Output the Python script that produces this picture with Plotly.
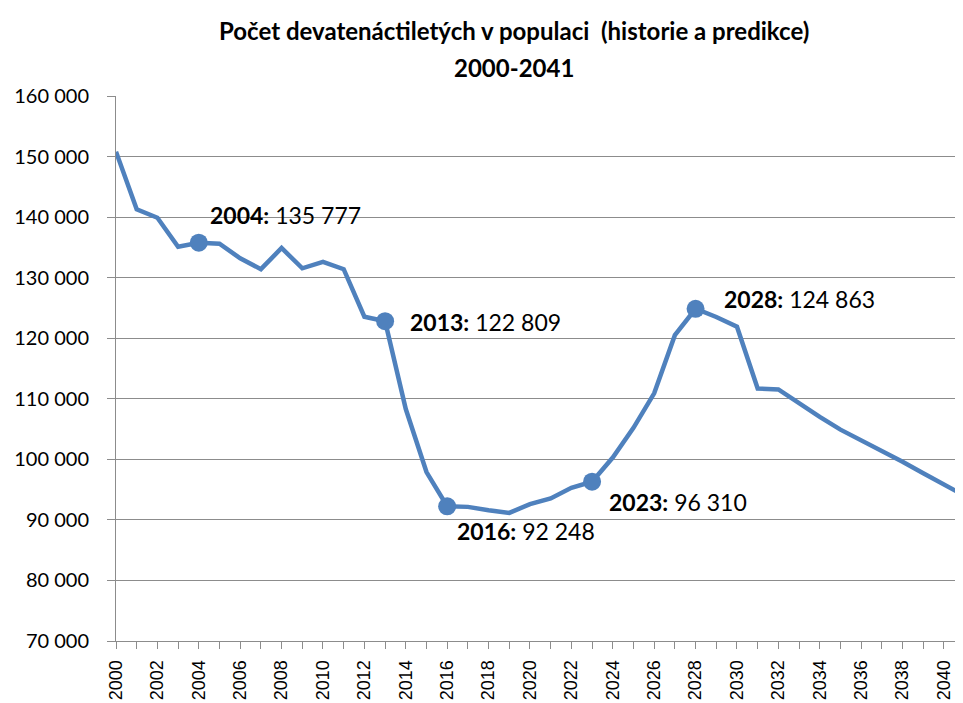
import plotly.graph_objects as go

years = list(range(2000, 2042))
values = [150800, 141300, 139900, 135100, 135777, 135600, 133200, 131400, 134900, 131550,
          132600, 131400, 123550, 122809, 108300, 97900, 92248, 92150, 91600, 91160,
          92600, 93540, 95290, 96310, 100300, 105200, 110900, 120500, 124863, 123500,
          121900, 111700, 111550, 109240, 107000, 104900, 103200, 101400, 99600, 97700,
          95900, 94000]

highlight_years = [2004, 2013, 2016, 2023, 2028]
highlight_values = [135777, 122809, 92248, 96310, 124863]
highlight_texts = ["135 777", "122 809", "92 248", "96 310", "124 863"]
label_shift_x = [9, 23, 8, 15, 26]
label_shift_y = [28, -1, -25, -20, 10]

y_ticks = list(range(70000, 160001, 10000))
x_ticks = list(range(2000, 2041, 2))

title_line1 = "Počet devatenáctiletých v populaci  (historie a predikce)"
title_line2 = "2000-2041"

BLUE = "#4F81BD"
GRID = "#8C8C8C"

fig = go.Figure()
fig.add_trace(go.Scatter(x=years, y=values, mode="lines",
                         line=dict(color=BLUE, width=4.5), hoverinfo="skip"))
fig.add_trace(go.Scatter(x=highlight_years, y=highlight_values, mode="markers",
                         marker=dict(color=BLUE, size=18), hoverinfo="skip"))

for yr, v, t, dx, dy in zip(highlight_years, highlight_values, highlight_texts,
                            label_shift_x, label_shift_y):
    fig.add_annotation(x=yr, y=v, text=f"<b>{yr}:</b> {t}", showarrow=False,
                       xanchor="left", yanchor="middle", xshift=dx, yshift=dy,
                       font=dict(family="Lato", size=23, color="#000000"))

fig.add_annotation(xref="paper", yref="paper", x=0.47, y=1.121, text=f"<b>{title_line1}</b>",
                   showarrow=False, xanchor="center", yanchor="middle",
                   font=dict(family="Lato", size=24, color="#000000"))
fig.add_annotation(xref="paper", yref="paper", x=0.47, y=1.053, text=f"<b>{title_line2}</b>",
                   showarrow=False, xanchor="center", yanchor="middle",
                   font=dict(family="Lato", size=24, color="#000000"))

fig.update_layout(
    width=955, height=695,
    margin=dict(l=108, r=0, t=88, b=62, autoexpand=False),
    paper_bgcolor="white", plot_bgcolor="white",
    showlegend=False,
)
fig.update_xaxes(range=[2000, 2040.92], tickmode="array", tickvals=x_ticks,
                 ticktext=[str(x) for x in x_ticks], tickangle=-90,
                 showgrid=False, zeroline=False, showline=True, linecolor=GRID, linewidth=1,
                 ticks="outside", ticklen=7, tickcolor=GRID,
                 minor=dict(ticks="outside", ticklen=7, tickcolor=GRID, dtick=1, tick0=2000, showgrid=False),
                 ticklabelstandoff=4, automargin=False,
                 tickfont=dict(family="Liberation Sans", size=18, color="#000000"))
fig.update_yaxes(range=[70000, 160000], tickmode="array", tickvals=y_ticks,
                 ticktext=[f"{v:,}".replace(",", " ") for v in y_ticks],
                 showgrid=True, gridcolor=GRID, gridwidth=1, zeroline=False,
                 showline=True, linecolor=GRID, linewidth=1,
                 ticks="outside", ticklen=8, tickcolor=GRID,
                 ticklabelstandoff=14, automargin=False,
                 tickfont=dict(family="Lato", size=20, color="#000000"))

fig.write_html("out.html")
